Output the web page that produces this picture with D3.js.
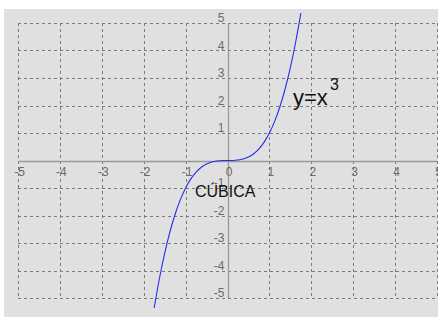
<!DOCTYPE html>
<html><head><meta charset="utf-8">
<script src="https://cdn.jsdelivr.net/npm/d3@7"></script>
<style>html,body{margin:0;padding:0;background:#fff;}svg{display:block;}</style>
</head><body>
<svg id="c" width="438" height="317"></svg>
<script>
const xTicks = [-5,-4,-3,-2,-1,0,1,2,3,4,5];
const yTicks = [-5,-4,-3,-2,-1,0,1,2,3,4,5];
const xLabels = ["-5","-4","-3","-2","-1","0","1","2","3","4","5"];
const yLabels = ["-5","-4","-3","-2","-1","","1","2","3","4","5"];
const curveX = [-1.75,-1.625,-1.5,-1.375,-1.25,-1.125,-1,-0.875,-0.75,-0.625,-0.5,-0.375,-0.25,-0.125,0,0.125,0.25,0.375,0.5,0.625,0.75,0.875,1,1.125,1.25,1.375,1.5,1.625,1.75];
const curveY = [-5.359,-4.291,-3.375,-2.600,-1.953,-1.424,-1,-0.670,-0.422,-0.244,-0.125,-0.053,-0.016,-0.002,0,0.002,0.016,0.053,0.125,0.244,0.422,0.670,1,1.424,1.953,2.600,3.375,4.291,5.359];
const title = "CÚBICA";
const eqBase = "y=x";
const eqExp = "3";

const svg = d3.select("#c");
svg.append("rect").attr("x",4).attr("y",9).attr("width",434).attr("height",308).attr("fill","#e0e0e0");

const x = d3.scaleLinear().domain([-5,5]).range([18,437]);
const y = d3.scaleLinear().domain([-5,5]).range([298,23]);
const px = v => Math.round(x(v)) + 0.5;
const py = v => Math.round(y(v)) + 0.5;

const grid = svg.append("g");
xTicks.filter(t=>t!==0).forEach(t=>{
  grid.append("line").attr("x1",px(t)).attr("x2",px(t)).attr("y1",y(5)).attr("y2",y(-5))
    .attr("stroke","#7a7a7a").attr("stroke-width",1).attr("stroke-dasharray","3,3");
});
yTicks.filter(t=>t!==0).forEach(t=>{
  grid.append("line").attr("y1",py(t)).attr("y2",py(t)).attr("x1",x(-5)).attr("x2",x(5))
    .attr("stroke","#7a7a7a").attr("stroke-width",1).attr("stroke-dasharray","3,3");
});
// axes
svg.append("line").attr("x1",x(-5)).attr("x2",x(5)).attr("y1",py(0)).attr("y2",py(0)).attr("stroke","#999").attr("stroke-width",1.3);
svg.append("line").attr("x1",px(0)).attr("x2",px(0)).attr("y1",y(5)).attr("y2",y(-5)).attr("stroke","#999").attr("stroke-width",1.3);

const lab = svg.append("g").attr("font-family","Liberation Sans, Arial, sans-serif").attr("font-size",12).attr("fill","#6a6a6a");
xTicks.forEach((t,i)=>{
  lab.append("text").attr("x",x(t)+1.5).attr("y",y(0)+15).attr("text-anchor","middle").text(xLabels[i]);
});
yTicks.forEach((t,i)=>{
  if(!yLabels[i]) return;
  lab.append("text").attr("x",x(0)-3).attr("y",y(t)-1).attr("text-anchor","end").text(yLabels[i]);
});

const pts = curveX.map((v,i)=>[v,curveY[i]]);
svg.append("path").datum(pts)
  .attr("d", d3.line().x(d=>x(d[0])).y(d=>y(d[1])).curve(d3.curveMonotoneX))
  .attr("fill","none").attr("stroke","#2b2bf0").attr("stroke-width",1.1);

const t = svg.append("g").attr("font-family","Liberation Sans, Arial, sans-serif").attr("fill","#111");
t.append("text").attr("x",195).attr("y",197).attr("font-size",16).text(title);
t.append("text").attr("x",293).attr("y",105).attr("font-size",22).text(eqBase);
t.append("text").attr("x",330).attr("y",90).attr("font-size",16).text(eqExp);
</script>
</body></html>
